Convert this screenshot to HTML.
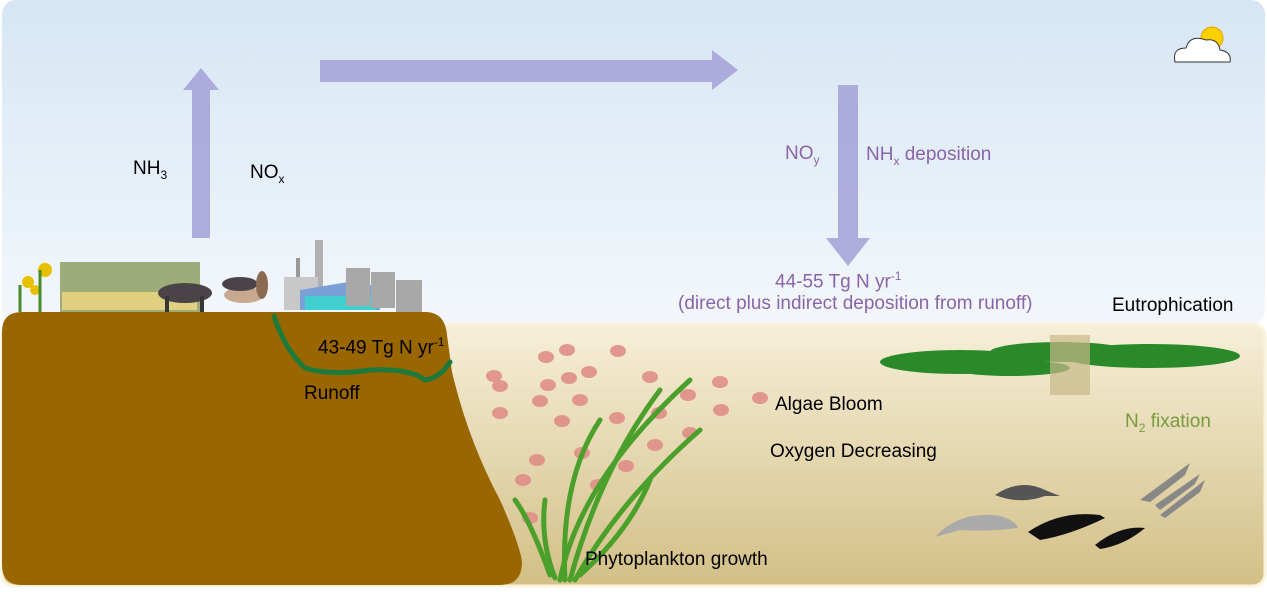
<!DOCTYPE html>
<html><head><meta charset="utf-8"><style>
html,body{margin:0;padding:0;}
body{width:1267px;height:595px;position:relative;overflow:hidden;background:#fff;font-family:"Liberation Sans",sans-serif;}
.t{position:absolute;font-size:19px;line-height:22px;white-space:nowrap;color:#000;}
.p{color:#8a64a8;}
sub,sup{font-size:12px;}
</style></head><body>
<svg width="1267" height="595" style="position:absolute;left:0;top:0">
<defs>
<linearGradient id="sky" x1="0" y1="0" x2="0" y2="1"><stop offset="0" stop-color="#d6e6f4"/><stop offset="1" stop-color="#f3f7fb"/></linearGradient>
<linearGradient id="sea" x1="0" y1="0" x2="0" y2="1"><stop offset="0" stop-color="#f6efd9"/><stop offset="1" stop-color="#d3bf86"/></linearGradient>
</defs>
<rect x="2" y="0" width="1263" height="325" rx="14" fill="url(#sky)"/>
<rect x="2" y="324" width="1263" height="262" rx="12" fill="url(#sea)" stroke="#fbf3dc" stroke-width="3"/>
<g fill="#aaa8da" opacity="0.95">
<polygon points="192,238 210,238 210,90 219,90 201,68 183,90 192,90"/>
<polygon points="320,60 712,60 712,50 738,70 712,90 712,82 320,82"/>
<polygon points="838,85 858,85 858,238 870,238 848,266 826,238 838,238"/>
</g>
<circle cx="1212" cy="38" r="11" fill="#ffd000" stroke="#e6a000"/>
<path d="M1175,62 Q1172,48 1186,48 Q1190,34 1206,40 Q1218,38 1220,50 Q1232,52 1230,62 Z" fill="#fff" stroke="#333" stroke-width="1"/>
<path d="M22,312 L425,312 Q445,312 447,335 L452,372 Q468,440 500,500 Q520,545 522,562 Q522,585 500,585 L22,585 Q2,585 2,565 L2,332 Q2,312 22,312 Z" fill="#996600"/>
<path d="M274,316 Q285,350 305,368 Q330,376 370,370 Q410,368 425,380 Q440,378 450,362" fill="none" stroke="#1e7a3a" stroke-width="5" stroke-linecap="round"/>
<g fill="#8a9a5a" opacity="0.8"><rect x="60" y="262" width="140" height="50"/></g>
<g fill="#e0d080"><rect x="62" y="292" width="135" height="18"/></g>
<circle cx="28" cy="282" r="6" fill="#e8c000"/><circle cx="45" cy="270" r="7" fill="#e8c000"/><circle cx="35" cy="290" r="5" fill="#e8c000"/>
<path d="M20,312 L20,285 M40,312 L40,270" stroke="#4a8a2a" stroke-width="3"/>
<ellipse cx="185" cy="293" rx="27" ry="10" fill="#4a4448"/><rect x="165" y="296" width="4" height="16" fill="#3a3438"/><rect x="200" y="296" width="4" height="16" fill="#3a3438"/>
<ellipse cx="244" cy="295" rx="20" ry="8" fill="#c8a890"/><ellipse cx="240" cy="284" rx="18" ry="7" fill="#4a4448"/>
<ellipse cx="262" cy="285" rx="6" ry="14" fill="#8a6a50"/>
<rect x="315" y="240" width="8" height="50" fill="#b0b0b0"/><rect x="296" y="258" width="4" height="30" fill="#999"/>
<rect x="284" y="277" width="34" height="33" fill="#c8c8c8"/>
<polygon points="300,290 360,280 380,290 380,310 300,310" fill="#7aa0d8"/>
<rect x="305" y="296" width="72" height="14" fill="#40d0d0"/>
<rect x="346" y="268" width="24" height="38" fill="#a8a8a8"/><rect x="371" y="272" width="24" height="36" fill="#a8a8a8"/><rect x="396" y="280" width="26" height="32" fill="#a8a8a8"/>
<g fill="#e08e88" opacity="0.9">
<ellipse cx="546" cy="357" rx="8" ry="6"/><ellipse cx="567" cy="350" rx="8" ry="6"/><ellipse cx="618" cy="351" rx="8" ry="6"/><ellipse cx="494" cy="376" rx="8" ry="6"/><ellipse cx="500" cy="386" rx="8" ry="6"/><ellipse cx="548" cy="385" rx="8" ry="6"/><ellipse cx="569" cy="378" rx="8" ry="6"/><ellipse cx="589" cy="372" rx="8" ry="6"/><ellipse cx="540" cy="401" rx="8" ry="6"/><ellipse cx="580" cy="400" rx="8" ry="6"/><ellipse cx="500" cy="413" rx="8" ry="6"/><ellipse cx="650" cy="377" rx="8" ry="6"/><ellipse cx="720" cy="382" rx="8" ry="6"/><ellipse cx="688" cy="395" rx="8" ry="6"/><ellipse cx="760" cy="398" rx="8" ry="6"/><ellipse cx="721" cy="410" rx="8" ry="6"/><ellipse cx="659" cy="413" rx="8" ry="6"/><ellipse cx="617" cy="418" rx="8" ry="6"/><ellipse cx="562" cy="421" rx="8" ry="6"/><ellipse cx="690" cy="433" rx="8" ry="6"/><ellipse cx="655" cy="445" rx="8" ry="6"/><ellipse cx="582" cy="453" rx="8" ry="6"/><ellipse cx="537" cy="460" rx="8" ry="6"/><ellipse cx="626" cy="466" rx="8" ry="6"/><ellipse cx="523" cy="480" rx="8" ry="6"/><ellipse cx="598" cy="485" rx="8" ry="6"/><ellipse cx="530" cy="518" rx="8" ry="6"/>
</g>
<g fill="none" stroke="#4aa02a" stroke-width="5" stroke-linecap="round">
<path d="M560,580 Q580,480 690,380"/><path d="M570,580 Q600,470 660,390"/><path d="M550,575 Q530,520 515,500"/><path d="M575,580 Q620,500 700,430"/><path d="M565,580 Q560,480 600,420"/><path d="M580,575 Q630,530 650,480"/><path d="M555,578 Q540,540 545,500"/>
</g>
<g fill="#2a8a2a">
<ellipse cx="960" cy="362" rx="80" ry="12"/><ellipse cx="1060" cy="352" rx="70" ry="10"/><ellipse cx="1150" cy="356" rx="90" ry="12"/><ellipse cx="1010" cy="368" rx="60" ry="8"/>
</g>
<g fill="#c8b888" opacity="0.7"><rect x="1050" y="335" width="40" height="60"/></g>
<path d="M935,537 Q960,510 1000,516 Q1015,520 1018,528 Q985,532 960,530 Z" fill="#aaa"/>
<path d="M995,495 Q1020,478 1045,490 L1060,496 L1045,496 Q1020,505 995,495 Z" fill="#555"/>
<path d="M1028,532 Q1060,510 1100,515 L1105,518 Q1070,535 1040,540 Z" fill="#111"/>
<path d="M1095,545 Q1120,525 1145,528 Q1125,545 1100,549 Z" fill="#111"/>
<path d="M1140,500 L1190,463 L1185,475 L1150,502 Z M1155,505 L1200,474 L1195,484 L1160,510 Z M1160,515 L1205,480 L1200,492 L1165,518 Z" fill="#888"/>
</svg>
<div class="t" style="left:133px;top:158px">NH<sub>3</sub></div>
<div class="t" style="left:250px;top:162px">NO<sub>x</sub></div>
<div class="t p" style="left:785px;top:143px">NO<sub>y</sub></div>
<div class="t p" style="left:866px;top:144px">NH<sub>x</sub> deposition</div>
<div class="t p" style="left:775px;top:265px">44-55 Tg N yr<sup>-1</sup></div>
<div class="t p" style="left:678px;top:293px">(direct plus indirect deposition from runoff)</div>
<div class="t" style="left:1112px;top:295px">Eutrophication</div>
<div class="t" style="left:318px;top:331px">43-49 Tg N yr<sup>-1</sup></div>
<div class="t" style="left:304px;top:383px">Runoff</div>
<div class="t" style="left:775px;top:394px">Algae Bloom</div>
<div class="t" style="left:770px;top:441px">Oxygen Decreasing</div>
<div class="t" style="left:585px;top:549px">Phytoplankton growth</div>
<div class="t" style="left:1125px;top:411px;color:#7a9a40">N<sub>2</sub> fixation</div>
</body></html>
